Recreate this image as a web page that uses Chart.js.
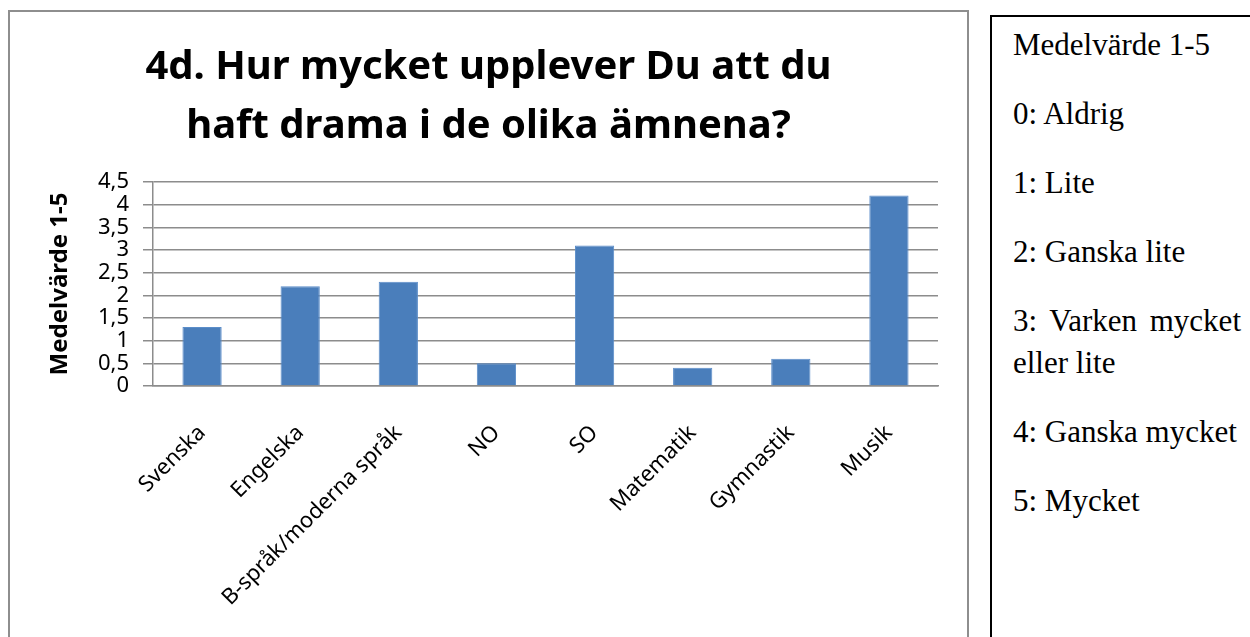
<!DOCTYPE html>
<html>
<head>
<meta charset="utf-8">
<script src="https://cdn.jsdelivr.net/npm/chart.js@4"></script>
<style>
  body { margin: 0; background: #fff; width: 1250px; height: 637px; overflow: hidden; position: relative; }
  #frame { position: absolute; left: 8px; top: 10px; width: 957px; height: 640px; border: 2px solid #8e8e8e; }
  #panel { position: absolute; left: 990px; top: 15px; width: 228px; height: 700px; border: 2px solid #000;
           padding: 7px 30px 0 21px; font-family: "Liberation Serif", serif; font-size: 31px; color: #000; }
  #panel p { margin: 0 0 27px 0; line-height: 42px; text-align: justify; }
</style>
</head>
<body>
<div id="frame"><canvas id="chart" width="957" height="625"></canvas></div>
<div id="panel">
  <p>Medelvärde 1-5</p>
  <p>0: Aldrig</p>
  <p>1: Lite</p>
  <p>2: Ganska lite</p>
  <p>3: Varken mycket eller lite</p>
  <p>4: Ganska mycket</p>
  <p>5: Mycket</p>
</div>
<script>
const categories = ["Svenska", "Engelska", "B-språk/moderna språk", "NO", "SO", "Matematik", "Gymnastik", "Musik"];
const values = [1.3, 2.2, 2.3, 0.5, 3.1, 0.4, 0.6, 4.2];
const yTicks = [0, 0.5, 1, 1.5, 2, 2.5, 3, 3.5, 4, 4.5];
const titleLines = ["4d. Hur mycket upplever Du att du", "haft drama i de olika ämnena?"];

const font = "'Noto Sans', sans-serif";

new Chart(document.getElementById("chart"), {
  type: "bar",
  data: {
    labels: categories,
    datasets: [{
      data: values,
      backgroundColor: "#4a7ebb",
      borderColor: "#5b8dc9",
      borderWidth: 1,
      barPercentage: 0.4,
      categoryPercentage: 1,
    }],
  },
  options: {
    responsive: false,
    animation: false,
    // same padding both sides so the title stays centred on the canvas
    layout: { padding: { left: 29, right: 29, top: 0, bottom: 0 } },
    plugins: {
      legend: { display: false },
      tooltip: { enabled: false },
      title: {
        display: true,
        text: titleLines,
        color: "#000",
        font: { family: font, size: 40, weight: "bold", lineHeight: 1.475 },
        padding: { top: 26, bottom: 26 },
      },
    },
    scales: {
      x: {
        grid: { display: false },
        border: { color: "#8c8c8c", width: 1.5 },
        ticks: {
          color: "#000",
          padding: 26,
          font: { family: font, size: 22 },
          minRotation: 45,
          maxRotation: 45,
          autoSkip: false,
        },
        afterFit: (s) => { s.height = 251; },
      },
      y: {
        min: 0,
        max: 4.5,
        afterBuildTicks: (s) => { s.ticks = yTicks.map((v) => ({ value: v })); },
        grid: { color: "#8c8c8c", tickLength: 10, lineWidth: 1.5 },
        border: { color: "#8c8c8c", width: 1.5 },
        ticks: {
          color: "#000",
          padding: 14,
          autoSkip: false,
          font: { family: font, size: 22, lineHeight: 1 },
          callback: (v) => String(v).replace(".", ","),
        },
        title: {
          display: true,
          text: "Medelvärde 1-5",
          color: "#000",
          font: { family: font, size: 24, weight: "bold" },
          padding: { top: 7, bottom: 0 },
        },
        afterFit: (s) => { s.width = 114; },
      },
    },
  },
});
</script>
</body>
</html>
